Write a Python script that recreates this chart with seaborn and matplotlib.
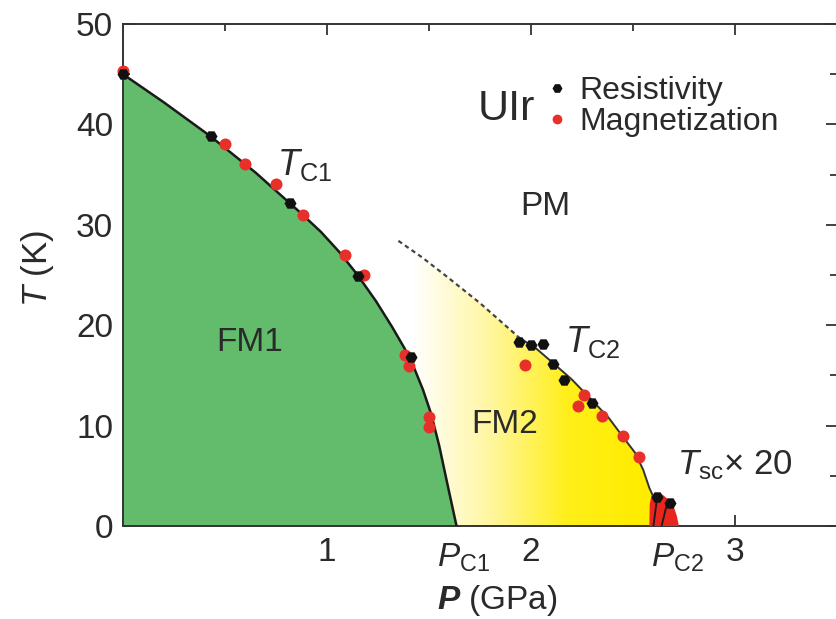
import numpy as np
import matplotlib
matplotlib.use('Agg')
import matplotlib.pyplot as plt
import seaborn as sns
from matplotlib.colors import LinearSegmentedColormap
from matplotlib.patches import Polygon
from matplotlib.lines import Line2D

# measured points (P in GPa, T in K)
res_P = [0.0, 0.43, 0.82, 1.15, 1.41, 1.94, 2.00, 2.06, 2.11, 2.16, 2.30, 2.62, 2.68]
res_T = [45.0, 38.8, 32.2, 24.9, 16.8, 18.3, 18.0, 18.1, 16.1, 14.5, 12.3, 2.9, 2.3]

mag_P = [0.0, 0.50, 0.60, 0.75, 0.88, 1.09, 1.18, 1.38, 1.40, 1.50, 1.50,
         1.97, 2.23, 2.26, 2.35, 2.45, 2.53]
mag_T = [45.3, 38.0, 36.1, 34.1, 31.0, 27.0, 25.0, 17.0, 15.9, 10.9, 9.9,
         16.0, 12.0, 13.0, 11.0, 9.0, 6.9]

# phase boundaries
tc1_P = [0.0, 0.2, 0.43, 0.65, 0.87, 0.97, 1.06, 1.15, 1.24, 1.32, 1.38,
         1.43, 1.47, 1.51, 1.55, 1.59, 1.635]
tc1_T = [45.0, 42.2, 38.8, 35.2, 31.2, 29.3, 27.3, 25.0, 22.4, 19.8, 17.7,
         15.6, 13.6, 11.2, 8.0, 4.2, 0.0]

tc2_dash_P = [1.35, 1.47, 1.59, 1.75, 1.94]
tc2_dash_T = [28.4, 26.7, 24.8, 22.2, 18.8]

tc2_P = [1.94, 2.03, 2.11, 2.20, 2.30, 2.38, 2.45, 2.51, 2.55, 2.58, 2.60]
tc2_T = [18.8, 17.6, 16.2, 14.6, 12.5, 10.8, 8.9, 7.3, 5.6, 3.8, 2.9]

# superconducting dome (Tsc x 20)
sc_P = [2.58, 2.582, 2.59, 2.61, 2.64, 2.67, 2.70, 2.715, 2.725]
sc_T = [0.0, 2.2, 3.0, 3.3, 3.2, 2.7, 1.9, 1.0, 0.0]
sc_line1_P = [2.62, 2.60]
sc_line1_T = [3.1, 0.0]
sc_line2_P = [2.67, 2.64]
sc_line2_T = [2.5, 0.0]

Pc1 = 1.635
Pc2 = 2.72

sns.set_theme(style='ticks')
plt.rcParams['font.family'] = ['Liberation Sans', 'DejaVu Sans']
plt.rcParams['mathtext.fontset'] = 'custom'
plt.rcParams['mathtext.rm'] = 'Liberation Sans'
plt.rcParams['mathtext.it'] = 'Liberation Sans:italic'
plt.rcParams['mathtext.bf'] = 'Liberation Sans:bold:italic'

fig = plt.figure(figsize=(8.37, 6.19), dpi=100)
ax = fig.add_axes([123/837, 1 - 526/619, 714/837, 502/619])
ax.set_xlim(0, 3.5)
ax.set_ylim(0, 50)

# FM2 region with white -> yellow gradient
back_P = [p for p, t in zip(tc1_P[::-1], tc1_T[::-1]) if 0 < t < 30]
back_T = [t for t in tc1_T[::-1] if 0 < t < 30]
fm2_P = tc2_dash_P + tc2_P[1:] + [2.58, Pc1] + back_P
fm2_T = tc2_dash_T + tc2_T[1:] + [0.0, 0.0] + back_T
fm2_poly = Polygon(list(zip(fm2_P, fm2_T)), closed=True, facecolor='none', edgecolor='none')
ax.add_patch(fm2_poly)
cmap = LinearSegmentedColormap.from_list('wy', ['#FFFFFF', '#FFF6A0', '#FFEF1A', '#FFEC00'])
grad = np.linspace(0, 1, 256).reshape(1, -1)
im = ax.imshow(grad, cmap=cmap, extent=(1.42, 2.55, 0, 30), aspect='auto', zorder=1)
im.set_clip_path(fm2_poly)
ax.fill_between([2.55, 2.7], 0, 30, color='#FFEC00', zorder=1, clip_path=fm2_poly)

# FM1 region
ax.fill_between(tc1_P, 0, tc1_T, color='#62BC6B', lw=0, zorder=2)
sns.lineplot(x=tc1_P, y=tc1_T, color='#1a1a1a', lw=1.8, sort=False, ax=ax, zorder=3)
sns.lineplot(x=tc2_P, y=tc2_T, color='#333333', lw=1.4, sort=False, ax=ax, zorder=3)
ax.plot(tc2_dash_P, tc2_dash_T, color='#444444', lw=1.6, ls=(0, (2, 1.6)), zorder=3)

# superconducting dome
ax.fill(sc_P, sc_T, color='#E8261E', lw=0, zorder=3)
ax.plot(sc_line1_P, sc_line1_T, color='#1a1a1a', lw=1.3, zorder=4)
ax.plot(sc_line2_P, sc_line2_T, color='#1a1a1a', lw=1.3, zorder=4)

sns.scatterplot(x=mag_P, y=mag_T, color='#E8302A', s=75, linewidth=0, marker='o',
                ax=ax, zorder=5, clip_on=False)
sns.scatterplot(x=res_P, y=res_T, color='#111111', s=75, linewidth=0, marker='H',
                ax=ax, zorder=6, clip_on=False)

# ticks
ax.set_xticks([1, 2, 3])
ax.set_xticklabels(['1', '2', '3'])
ax.set_xticks([0.5, 1.5, 2.5], minor=True)
ax.set_yticks(range(0, 51, 10))
ax.set_yticks(range(5, 50, 10), minor=True)
ax.tick_params(which='both', direction='in', top=True, right=True, width=1.3,
               color='#333333', labelsize=24, labelcolor='#2a2a2a')
ax.tick_params(which='major', length=8)
ax.tick_params(which='minor', length=5)
ax.tick_params(axis='x', pad=8)
ax.tick_params(axis='y', pad=7)
for s in ax.spines.values():
    s.set_linewidth(1.4)
    s.set_color('#333333')

# Pc labels under the axis
for xp, lab in [(Pc1 + 0.035, r'$P_{\rm C1}$'), (Pc2, r'$P_{\rm C2}$')]:
    ax.annotate(lab, xy=(xp, 0), xycoords=('data', 'axes fraction'),
                xytext=(0, -11), textcoords='offset points', ha='center', va='top',
                fontsize=24, color='#2a2a2a')

ax.set_xlabel(r'$\mathbf{P}$ (GPa)', fontsize=24, color='#2a2a2a')
ax.xaxis.label.set_verticalalignment('center')
ax.xaxis.set_label_coords((497 - 123) / 714, (526 - 601) / 502)
ax.set_ylabel(r'$T$ (K)', fontsize=25, color='#2a2a2a')
ax.yaxis.label.set_verticalalignment('center')
ax.yaxis.set_label_coords((37 - 123) / 714, (526 - 268) / 502)

# region labels
txt = dict(color='#2a2a2a', ha='center', va='center')
ax.text(0.62, 18.3, 'FM1', fontsize=24, **txt)
ax.text(1.87, 10.1, 'FM2', fontsize=24, **txt)
ax.text(2.07, 31.8, 'PM', fontsize=24, **txt)
ax.text(0.89, 36.0, r'$T_{\rm C1}$', fontsize=26, **txt)
ax.text(2.30, 18.3, r'$T_{\rm C2}$', fontsize=26, **txt)
ax.text(3.00, 6.1, r'$T_{\rm sc}$' + '× 20', fontsize=25, **txt)
ax.text(1.88, 41.5, 'UIr', fontsize=31, **txt)

handles = [Line2D([], [], ls='none', marker='H', color='#111111', markersize=6),
           Line2D([], [], ls='none', marker='o', color='#E8302A', markersize=6)]
ax.legend(handles, ['Resistivity', 'Magnetization'], loc='upper left',
          bbox_to_anchor=(0.595, 0.897), frameon=False, fontsize=23,
          handlelength=0.6, handletextpad=0.4, labelspacing=0.05,
          borderpad=0, borderaxespad=0, labelcolor='#2a2a2a')

fig.savefig('out.png', dpi=100)
